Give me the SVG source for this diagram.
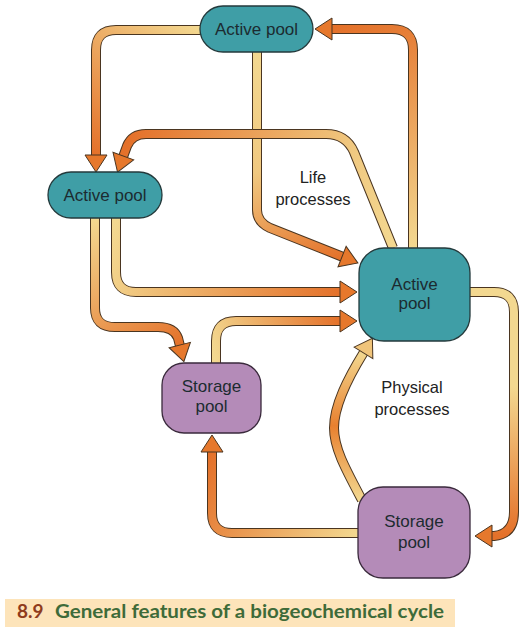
<svg xmlns="http://www.w3.org/2000/svg" width="526" height="634" viewBox="0 0 526 634">
<style>
.o{fill:none;stroke:#4a3520;stroke-width:10}
.c{fill:none;stroke-width:8}
.n{font-family:"Liberation Sans",Arial,sans-serif;font-size:17px;fill:#1c2b30;text-anchor:middle}
.l{font-family:"Liberation Sans",Arial,sans-serif;font-size:16.5px;fill:#222;text-anchor:middle}
.teal{fill:#3f9ea6;stroke:#243a3c;stroke-width:1.3}
.purp{fill:#b48bb8;stroke:#3a2a3c;stroke-width:1.3}
</style>
<defs>
<marker id="ho" markerUnits="userSpaceOnUse" viewBox="0 0 18 24" refX="1" refY="12" markerWidth="18" markerHeight="24" orient="auto" overflow="visible">
<path d="M0,1 L17,12 L0,23 Z" fill="#e6782c" stroke="#4a3520" stroke-width="1"/>
</marker>
<marker id="hp" markerUnits="userSpaceOnUse" viewBox="0 0 18 24" refX="1" refY="12" markerWidth="18" markerHeight="24" orient="auto" overflow="visible">
<path d="M0,1 L17,12 L0,23 Z" fill="#f0c47a" stroke="#4a3520" stroke-width="1"/>
</marker>
<linearGradient id="g1" gradientUnits="userSpaceOnUse" x1="200" y1="30" x2="96" y2="156"><stop offset="0" stop-color="#f3d890"/><stop offset="1" stop-color="#e4712a"/></linearGradient>
<linearGradient id="g2" gradientUnits="userSpaceOnUse" x1="413" y1="248" x2="331" y2="29"><stop offset="0" stop-color="#f3d890"/><stop offset="1" stop-color="#e4712a"/></linearGradient>
<linearGradient id="g3" gradientUnits="userSpaceOnUse" x1="393" y1="248" x2="123" y2="157"><stop offset="0" stop-color="#f3d890"/><stop offset="0.25" stop-color="#f0c880"/><stop offset="1" stop-color="#e4712a"/></linearGradient>
<linearGradient id="g4" gradientUnits="userSpaceOnUse" x1="257" y1="52" x2="343" y2="257"><stop offset="0" stop-color="#f3d890"/><stop offset="0.5" stop-color="#f0c880"/><stop offset="1" stop-color="#e4712a"/></linearGradient>
<linearGradient id="g5" gradientUnits="userSpaceOnUse" x1="116" y1="218" x2="341" y2="292"><stop offset="0" stop-color="#f3d890"/><stop offset="1" stop-color="#e4712a"/></linearGradient>
<linearGradient id="g6" gradientUnits="userSpaceOnUse" x1="216" y1="363" x2="341" y2="321"><stop offset="0" stop-color="#f3d890"/><stop offset="1" stop-color="#e4712a"/></linearGradient>
<linearGradient id="g7" gradientUnits="userSpaceOnUse" x1="95" y1="218" x2="180" y2="346"><stop offset="0" stop-color="#f3d890"/><stop offset="1" stop-color="#e4712a"/></linearGradient>
<linearGradient id="g8" gradientUnits="userSpaceOnUse" x1="470" y1="292" x2="491" y2="536"><stop offset="0" stop-color="#f3d890"/><stop offset="0.4" stop-color="#f3d890"/><stop offset="1" stop-color="#e4712a"/></linearGradient>
<linearGradient id="g9" gradientUnits="userSpaceOnUse" x1="358" y1="533" x2="212" y2="451"><stop offset="0" stop-color="#f3d890"/><stop offset="1" stop-color="#e4712a"/></linearGradient>
<linearGradient id="g10" gradientUnits="userSpaceOnUse" x1="362" y1="500" x2="364" y2="352"><stop offset="0" stop-color="#f3d890"/><stop offset="0.5" stop-color="#e8802f"/><stop offset="1" stop-color="#f3d890"/></linearGradient>
</defs>
<g id="connectors">
<path class="o" d="M257,52 V210 Q257,222 270,228 L343,257"/>
<path class="c" stroke="url(#g4)" d="M257,52 V210 Q257,222 270,228 L343,257" marker-end="url(#ho)"/>
<path class="o" d="M200,30 H116 Q96,30 96,50 V156"/>
<path class="c" stroke="url(#g1)" d="M200,30 H116 Q96,30 96,50 V156" marker-end="url(#ho)"/>
<path class="o" d="M413,248 V50 Q413,29 392,29 H331"/>
<path class="c" stroke="url(#g2)" d="M413,248 V50 Q413,29 392,29 H331" marker-end="url(#ho)"/>
<path class="o" d="M393,248 L354,152 Q346,134 326,134 H146 Q132,134 127,146 L123,157"/>
<path class="c" stroke="url(#g3)" d="M393,248 L354,152 Q346,134 326,134 H146 Q132,134 127,146 L123,157" marker-end="url(#ho)"/>
<path class="o" d="M116,218 V272 Q116,292 136,292 H341"/>
<path class="c" stroke="url(#g5)" d="M116,218 V272 Q116,292 136,292 H341" marker-end="url(#ho)"/>
<path class="o" d="M216,363 V341 Q216,321 236,321 H341"/>
<path class="c" stroke="url(#g6)" d="M216,363 V341 Q216,321 236,321 H341" marker-end="url(#ho)"/>
<path class="o" d="M95,218 V308 Q95,327 115,327 H158 Q174,327 178,338 L180,346"/>
<path class="c" stroke="url(#g7)" d="M95,218 V308 Q95,327 115,327 H158 Q174,327 178,338 L180,346" marker-end="url(#ho)"/>
<path class="o" d="M470,292 H494 Q514,292 514,312 V512 Q514,534 494,536 L491,536"/>
<path class="c" stroke="url(#g8)" d="M470,292 H494 Q514,292 514,312 V512 Q514,534 494,536 L491,536" marker-end="url(#ho)"/>
<path class="o" d="M358,533 H232 Q212,533 212,513 V451"/>
<path class="c" stroke="url(#g9)" d="M358,533 H232 Q212,533 212,513 V451" marker-end="url(#ho)"/>
<path class="o" d="M362,500 C345,468 334,448 334,428 C334,405 348,378 364,352"/>
<path class="c" stroke="url(#g10)" d="M362,500 C345,468 334,448 334,428 C334,405 348,378 364,352" marker-end="url(#hp)"/>
</g>
<g id="top-active">
<rect class="teal" x="200" y="6" width="113" height="46" rx="23"/>
<text class="n" x="256.5" y="35">Active pool</text>
</g>
<g id="left-active">
<rect class="teal" x="48" y="172" width="114" height="46" rx="23"/>
<text class="n" x="105" y="201">Active pool</text>
</g>
<g id="right-active">
<rect class="teal" x="359" y="248" width="111" height="93" rx="25"/>
<text class="n" x="414.5" y="290">Active</text>
<text class="n" x="414.5" y="309">pool</text>
</g>
<g id="left-storage">
<rect class="purp" x="162" y="363" width="99" height="70" rx="22"/>
<text class="n" x="211.5" y="392">Storage</text>
<text class="n" x="211.5" y="412">pool</text>
</g>
<g id="right-storage">
<rect class="purp" x="358" y="487" width="112" height="91" rx="25"/>
<text class="n" x="414" y="527">Storage</text>
<text class="n" x="414" y="548">pool</text>
</g>
<g id="labels">
<text class="l" x="313" y="183">Life</text>
<text class="l" x="313" y="205">processes</text>
<text class="l" x="412" y="393">Physical</text>
<text class="l" x="412" y="415">processes</text>
</g>
<g id="caption">
<rect x="5" y="599" width="450" height="28" fill="#fde4ba"/>
<text x="17" y="618" font-family="Lato,'Open Sans',sans-serif" font-weight="bold" font-size="19" fill="#8f3b1c">8.9</text>
<text x="55" y="618" font-family="Lato,'Open Sans',sans-serif" font-weight="bold" font-size="19" fill="#3e6b39" textLength="389" lengthAdjust="spacingAndGlyphs">General features of a biogeochemical cycle</text>
</g>
</svg>
